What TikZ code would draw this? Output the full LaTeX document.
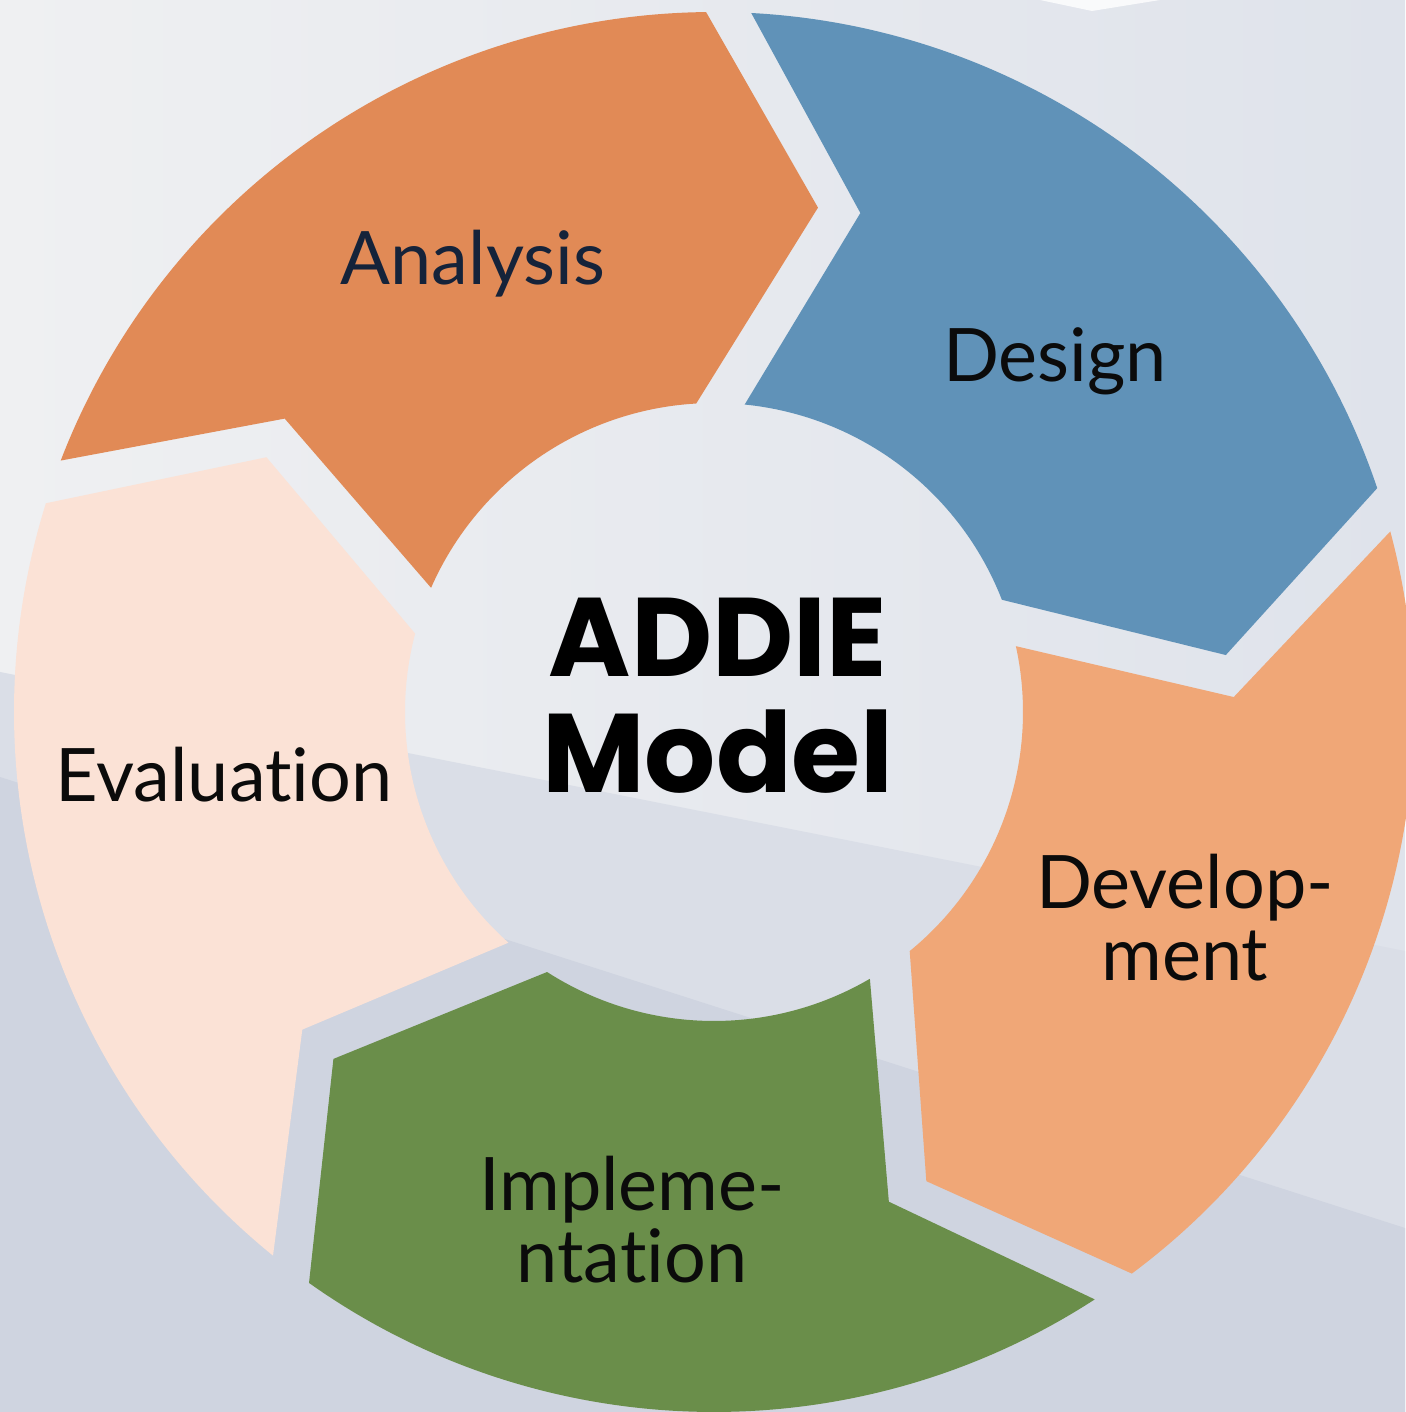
\documentclass[tikz,border=0pt]{standalone}
\usepackage{fontspec}
\newfontfamily\labelfont{Lato}[Ligatures=NoCommon]
\newfontfamily\titlefont{Poppins}

\definecolor{analysisorange}{HTML}{E18A56}
\definecolor{designblue}{HTML}{6092B8}
\definecolor{devorange}{HTML}{F0A777}
\definecolor{implgreen}{HTML}{6A8E4A}
\definecolor{evalpeach}{HTML}{FBE2D6}
\definecolor{bgleft}{HTML}{EFF0F2}
\definecolor{bgright}{HTML}{DFE3EB}
\definecolor{bgmid}{HTML}{DADEE7}
\definecolor{bglow}{HTML}{CFD4E0}
\definecolor{navy}{HTML}{15233A}
\definecolor{ink}{HTML}{0B0B0B}

\begin{document}
\begin{tikzpicture}[
    phase/.style={font=\labelfont\fontsize{21}{20.5}\selectfont, text=ink, align=center, inner sep=0pt},
    heading/.style={font=\titlefont\bfseries\fontsize{31.8}{33}\selectfont, text=black, align=center, inner sep=0pt}
  ]
            \useasboundingbox (-7.14,-7.00) rectangle (6.91,7.12);
            % background planes
            \shade[left color=bgleft, right color=bgright] (-7.14,-7.00) rectangle (6.91,7.12);
            \fill[bgmid] (-7.14,0.40) -- (6.91,-2.39) -- (6.91,-7.00) -- (-7.14,-7.00) -- cycle;
            \fill[bglow] (-7.14,-0.65) -- (6.91,-5.16) -- (6.91,-7.00) -- (-7.14,-7.00) -- cycle;
            \fill[white, opacity=0.8] (3.26,7.12) -- (4.46,7.12) -- (3.78,7.01) -- cycle;

            % arrow segments: outer radius 7, inner radius 3.09
            \fill[analysisorange] (158.95:7) arc[start angle=158.95, end angle=90.65, radius=7]
                -- (78.35:5.15) -- (93.3:3.09) arc[start angle=93.3, end angle=156.3, radius=3.09]
                -- (145.65:5.2) -- cycle;
            \fill[designblue] (86.95:7) arc[start angle=86.95, end angle=18.65, radius=7]
                -- (6.35:5.15) -- (21.3:3.09) arc[start angle=21.3, end angle=84.3, radius=3.09]
                -- (73.65:5.2) -- cycle;
            \fill[devorange] (14.95:7) arc[start angle=14.95, end angle=-53.35, radius=7]
                -- (-65.65:5.15) -- (-50.7:3.09) arc[start angle=-50.7, end angle=12.3, radius=3.09]
                -- (1.65:5.2) -- cycle;
            \fill[implgreen] (-57.05:7) arc[start angle=-57.05, end angle=-125.35, radius=7]
                -- (-137.65:5.15) -- (-122.7:3.09) arc[start angle=-122.7, end angle=-59.7, radius=3.09]
                -- (-70.35:5.2) -- cycle;
            \fill[evalpeach] (-129.05:7) arc[start angle=-129.05, end angle=-197.35, radius=7]
                -- (-209.65:5.15) -- (-194.7:3.09) arc[start angle=-194.7, end angle=-131.7, radius=3.09]
                -- (-142.35:5.2) -- cycle;

            % labels
            \node[heading] (title) at (0.04,0.16) {ADDIE\\Model};
            \node[phase, anchor=base, text=navy] (analysis) at (-2.41,4.27) {Analysis};
            \node[phase, anchor=base] (design) at (3.41,3.30) {Design};
            \node[phase] (development) at (4.71,-2.06) {Develop-\\ment};
            \node[phase] (implementation) at (-0.82,-5.08) {Impleme-\\ntation};
            \node[phase, anchor=base] (evaluation) at (-4.90,-0.90) {Evaluation};
        \end{tikzpicture}
\end{document}
